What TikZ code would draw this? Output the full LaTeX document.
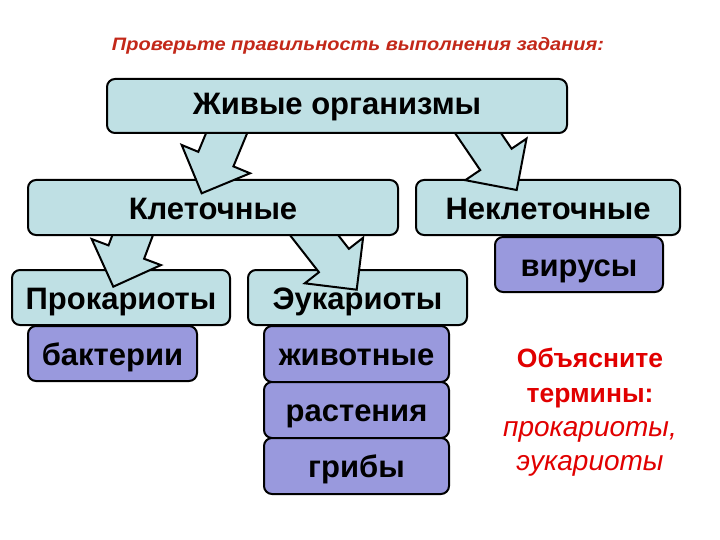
\documentclass[tikz,border=0pt]{standalone}
\usepackage{fontspec}
\setmainfont{Liberation Sans}
\definecolor{tealc}{RGB}{191,224,228}
\definecolor{purpc}{RGB}{153,153,221}
\definecolor{titlec}{RGB}{195,40,25}
\definecolor{redc}{RGB}{225,0,0}
\tikzset{
 boxbase/.style={draw=black, line width=2pt, rounded corners=8pt, inner sep=0pt, text height=23pt, text depth=0pt, font=\bfseries\fontsize{31}{31}\selectfont},
 tbox/.style={boxbase, fill=tealc},
 pbox/.style={boxbase, fill=purpc},
 barr/.style={draw=black, line width=2pt, fill=tealc, line join=miter},
}
\newcommand\blockarr[2]{\draw[barr, shift={(#1)}, rotate=#2] (-19,-90) -- (-19,-37) -- (-37,-37) -- (0,0) -- (37,-37) -- (19,-37) -- (19,-90) -- cycle;}
\begin{document}
\begin{tikzpicture}[x=1pt,y=-1pt]
\path[fill=white,use as bounding box] (0,0) rectangle (720,540);
\node[font=\bfseries\itshape\fontsize{18}{18}\selectfont, text=titlec] (title) at (358,46) {\scalebox{1.11}[1]{Проверьте правильность выполнения задания:}};
% level 3
\node[tbox, minimum width=218, minimum height=55] (prok) at (121,297.5) {Прокариоты};
\node[tbox, minimum width=219, minimum height=55] (euk) at (357.5,297.5) {Эукариоты};
\node[pbox, minimum width=169, minimum height=55] (bact) at (112.5,353.5) {бактерии};
\node[pbox, minimum width=185, minimum height=56] (anim) at (356.5,354) {животные};
\node[pbox, minimum width=185, minimum height=56] (plant) at (356.5,410) {растения};
\node[pbox, minimum width=185, minimum height=56] (fung) at (356.5,466) {грибы};
% arrows level 2 -> 3
\coordinate (t3) at (113.3,286.7);
\coordinate (t4) at (356.7,289.7);
\blockarr{t3}{-20.6}
\blockarr{t4}{38}
% level 2
\node[tbox, minimum width=370, minimum height=55] (cell) at (213,207.5) {Клеточные};
\node[tbox, minimum width=264, minimum height=55] (noncell) at (548,207.5) {Неклеточные};
\node[pbox, minimum width=168, minimum height=55] (vir) at (579,264.5) {вирусы};
% arrows level 1 -> 2
\coordinate (t1) at (201.7,193.3);
\coordinate (t2) at (516.7,190);
\blockarr{t1}{-22.5}
\blockarr{t2}{34.2}
% level 1
\node[tbox, minimum width=460, minimum height=54, text height=17pt] (live) at (337,106) {Живые организмы};
% explanation
\node[text=redc, align=center, font=\fontsize{27}{34.3}\selectfont] (expl) at (590,412.5) {{\bfseries\fontsize{26.5}{34.3}\selectfont Объясните}\\{\bfseries\fontsize{26.5}{34.3}\selectfont термины:}\\{\itshape\fontsize{28}{34.3}\selectfont прокариоты,}\\{\itshape\fontsize{28}{34.3}\selectfont эукариоты}};
\end{tikzpicture}
\end{document}
